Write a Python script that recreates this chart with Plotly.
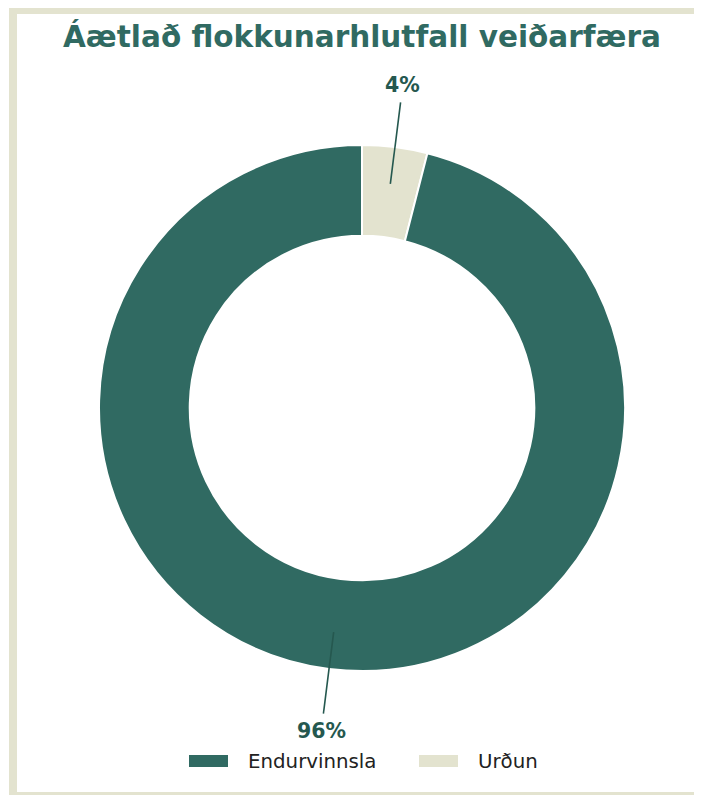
import math
import plotly.graph_objects as go

# ---- data ----
categories = ["Endurvinnsla", "Urðun"]
values = [96, 4]
colors = ["#306a62", "#e3e3cf"]
title_text = "Áætlað flokkunarhlutfall veiðarfæra"

# ---- layout constants (page pixels; figure sits at page offset 8,8) ----
OFF = 8
W, H = 702 - OFF, 795 - OFF
CX, CY = 362, 408          # donut centre
R_OUT = 263
HOLE = 0.655
R_LINE0, R_LINE1, R_LABEL = 226, 308, 326
TEAL_TEXT = "#25584f"
BORDER = "#e3e3cf"


def px(x):
    return (x - OFF) / W


def py(y):
    return 1 - (y - OFF) / H


# pie drawn clockwise from 12 o'clock, smallest slice first
pie_labels = categories[::-1]
pie_values = values[::-1]
pie_colors = colors[::-1]

fig = go.Figure()
fig.add_trace(go.Pie(
    labels=pie_labels,
    values=pie_values,
    marker=dict(colors=pie_colors, line=dict(color="white", width=2)),
    hole=HOLE,
    sort=False,
    direction="clockwise",
    rotation=0,
    textinfo="none",
    hoverinfo="label+percent",
    showlegend=False,
    domain=dict(x=[px(CX - R_OUT), px(CX + R_OUT)],
                y=[py(CY + R_OUT), py(CY - R_OUT)]),
))

shapes = []
annotations = []

# container border (page: left bar x 9-17, top bar up to y 14, bottom bar from y 792)
shapes.append(dict(type="rect", xref="paper", yref="paper", layer="below",
                   x0=px(9), x1=px(900), y0=py(14), y1=py(0),
                   fillcolor=BORDER, line=dict(width=0)))
shapes.append(dict(type="rect", xref="paper", yref="paper", layer="below",
                   x0=px(9), x1=px(17), y0=py(900), y1=py(0),
                   fillcolor=BORDER, line=dict(width=0)))
shapes.append(dict(type="rect", xref="paper", yref="paper", layer="below",
                   x0=px(9), x1=px(900), y0=py(900), y1=py(792),
                   fillcolor=BORDER, line=dict(width=0)))

# leader lines + percentage labels computed from the values (clockwise angles)
total = sum(pie_values)
start = 0.0
for cat, v in zip(pie_labels, pie_values):
    frac = v / total
    mid = math.radians(start + frac * 360 / 2)
    start += frac * 360
    sx, sy = math.sin(mid), -math.cos(mid)
    shapes.append(dict(type="line", xref="paper", yref="paper",
                       x0=px(CX + R_LINE0 * sx), y0=py(CY + R_LINE0 * sy),
                       x1=px(CX + R_LINE1 * sx), y1=py(CY + R_LINE1 * sy),
                       line=dict(color=TEAL_TEXT, width=1.6)))
    annotations.append(dict(xref="paper", yref="paper",
                            x=px(CX + R_LABEL * sx), y=py(CY + R_LABEL * sy),
                            text=f"<b>{round(frac * 100)}%</b>", showarrow=False,
                            xanchor="center", yanchor="middle",
                            font=dict(family="DejaVu Sans", size=20.5, color=TEAL_TEXT)))

# custom legend (wide swatches)
legend_x = [189, 419]
for i, (cat, col) in enumerate(zip(categories, colors)):
    x0 = legend_x[i]
    shapes.append(dict(type="rect", xref="paper", yref="paper",
                       x0=px(x0), x1=px(x0 + 39), y0=py(767), y1=py(755),
                       fillcolor=col, line=dict(width=0)))
    annotations.append(dict(xref="paper", yref="paper",
                            x=px(x0 + 57), y=py(761), text=cat, showarrow=False,
                            xanchor="left", yanchor="middle",
                            font=dict(family="DejaVu Sans", size=19.8, color="#222222")))

fig.update_layout(
    width=W, height=H,
    margin=dict(l=0, r=0, t=0, b=0),
    paper_bgcolor="white",
    plot_bgcolor="white",
    title=dict(text=f"<b>{title_text}</b>", x=px(362), xanchor="center",
               y=py(37), yanchor="middle",
               font=dict(family="DejaVu Sans", size=29.5, color="#306a62")),
    shapes=shapes,
    annotations=annotations,
)

fig.write_html("out.html")
